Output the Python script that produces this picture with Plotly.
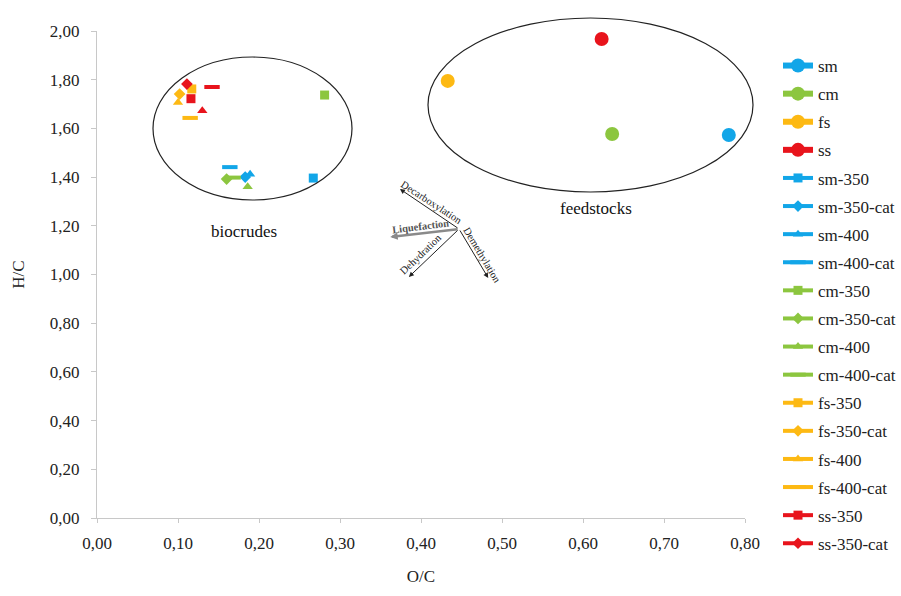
import plotly.graph_objects as go

# Van Krevelen data: atomic O/C and H/C ratios
series_names = ["sm", "cm", "fs", "ss",
                "sm-350", "sm-350-cat", "sm-400", "sm-400-cat",
                "cm-350", "cm-350-cat", "cm-400", "cm-400-cat",
                "fs-350", "fs-350-cat", "fs-400", "fs-400-cat",
                "ss-350", "ss-350-cat", "ss-400", "ss-400-cat"]
o_c = [0.780, 0.636, 0.433, 0.623,
       0.267, 0.183, 0.189, 0.164,
       0.281, 0.160, 0.186, 0.168,
       0.117, 0.102, 0.100, 0.115,
       0.116, 0.111, 0.130, 0.142]
h_c = [1.573, 1.577, 1.795, 1.967,
       1.396, 1.400, 1.412, 1.441,
       1.737, 1.392, 1.360, 1.398,
       1.762, 1.741, 1.706, 1.643,
       1.722, 1.782, 1.672, 1.770]
colors = {"sm": "#12a6e8", "cm": "#8cc63f", "fs": "#fdb913", "ss": "#e8141c"}
symbols = {"": "circle", "350": "square", "350-cat": "diamond",
           "400": "triangle-up", "400-cat": "line-ew"}
legend_hidden = {"ss-400", "ss-400-cat"}

x_ticks = [0.0, 0.1, 0.2, 0.3, 0.4, 0.5, 0.6, 0.7, 0.8]
y_ticks = [0.0, 0.2, 0.4, 0.6, 0.8, 1.0, 1.2, 1.4, 1.6, 1.8, 2.0]

SERIF = "Liberation Serif, Times New Roman, serif"

fig = go.Figure()
for i, (name, xv, yv) in enumerate(zip(series_names, o_c, h_c)):
    base, _, cond = name.partition("-")
    col = colors[base]
    sym = symbols[cond]
    feed = cond == ""
    marker = dict(symbol=sym, color=col, size=14 if feed else 9)
    if sym == "line-ew":
        marker = dict(symbol=sym, size=11, line=dict(color=col, width=4))
    fig.add_trace(go.Scatter(
        x=[xv], y=[yv], name=name, mode="lines+markers",
        line=dict(color=col, width=6 if feed else 4),
        marker=marker, legendgroup=name,
        showlegend=name not in legend_hidden,
    ))

# Cluster outlines
fig.add_shape(type="circle", xref="paper", yref="paper",
              x0=(153 - 97) / 648, x1=(352 - 97) / 648,
              y0=(518 - 200) / 487, y1=(518 - 57) / 487,
              line=dict(color="#222222", width=1.2))
fig.add_shape(type="circle", xref="paper", yref="paper",
              x0=(428 - 97) / 648, x1=(753 - 97) / 648,
              y0=(518 - 192) / 487, y1=(518 - 18) / 487,
              line=dict(color="#222222", width=1.2))

annotations = [
    dict(x=0.182, y=1.175, text="biocrudes", showarrow=False,
         font=dict(family=SERIF, size=17, color="#111")),
    dict(x=0.616, y=1.270, text="feedstocks", showarrow=False,
         font=dict(family=SERIF, size=17, color="#111")),
]

# Reaction pathway arrows
origin = (0.447, 1.187)
arrows = [
    ((0.374, 1.351), "#222", 1),
    ((0.362, 1.154), "#8a8a8a", 2.5),
    ((0.385, 0.990), "#222", 1),
    ((0.483, 0.986), "#222", 1),
]
for (hx, hy), col, w in arrows:
    annotations.append(dict(x=hx, y=hy, ax=origin[0], ay=origin[1],
                            xref="x", yref="y", axref="x", ayref="y",
                            text="", showarrow=True, arrowhead=2,
                            arrowsize=1 if w < 2 else 0.6,
                            arrowwidth=w, arrowcolor=col))
labels = [
    ("Decarboxylation", 0.413, 1.294, 33, "#222"),
    ("<b>Liquefaction</b>", 0.399, 1.197, -7, "#555"),
    ("Dehydration", 0.399, 1.084, -44, "#222"),
    ("Demethylation", 0.476, 1.080, 59, "#222"),
]
for txt, lx, ly, ang, col in labels:
    annotations.append(dict(x=lx, y=ly, text=txt, showarrow=False,
                            textangle=ang,
                            font=dict(family=SERIF, size=10.5, color=col)))

fig.update_layout(
    width=901, height=596,
    margin=dict(l=97, r=156, t=31, b=78),
    paper_bgcolor="white", plot_bgcolor="white",
    separators=", ",
    font=dict(family=SERIF, size=17, color="#222"),
    showlegend=True,
    legend=dict(xref="container", yref="container",
                x=778 / 901, xanchor="left", y=1 - 48 / 596, yanchor="top",
                traceorder="grouped", tracegroupgap=3, maxheight=590,
                font=dict(family=SERIF, size=17, color="#222"),
                bgcolor="rgba(0,0,0,0)"),
    annotations=annotations,
)
fig.update_xaxes(range=[0, 0.8], tickvals=x_ticks, tickformat=".2f",
                 tickfont=dict(family=SERIF, size=17, color="#222"),
                 showgrid=False, zeroline=False, showline=True,
                 linecolor="#c8c8c8", linewidth=1, ticks="outside",
                 ticklen=4, tickcolor="#c8c8c8", ticklabelstandoff=6,
                 title=dict(text="O/C", standoff=17,
                            font=dict(family=SERIF, size=17)))
fig.update_yaxes(range=[0, 2.0], tickvals=y_ticks, tickformat=".2f",
                 tickfont=dict(family=SERIF, size=17, color="#222"),
                 showgrid=False, zeroline=False, showline=True,
                 linecolor="#c8c8c8", linewidth=1, ticks="outside",
                 ticklen=5, tickcolor="#c8c8c8", ticklabelstandoff=8,
                 title=dict(text="H/C", standoff=20,
                            font=dict(family=SERIF, size=17)))

fig.write_html("out.html")
